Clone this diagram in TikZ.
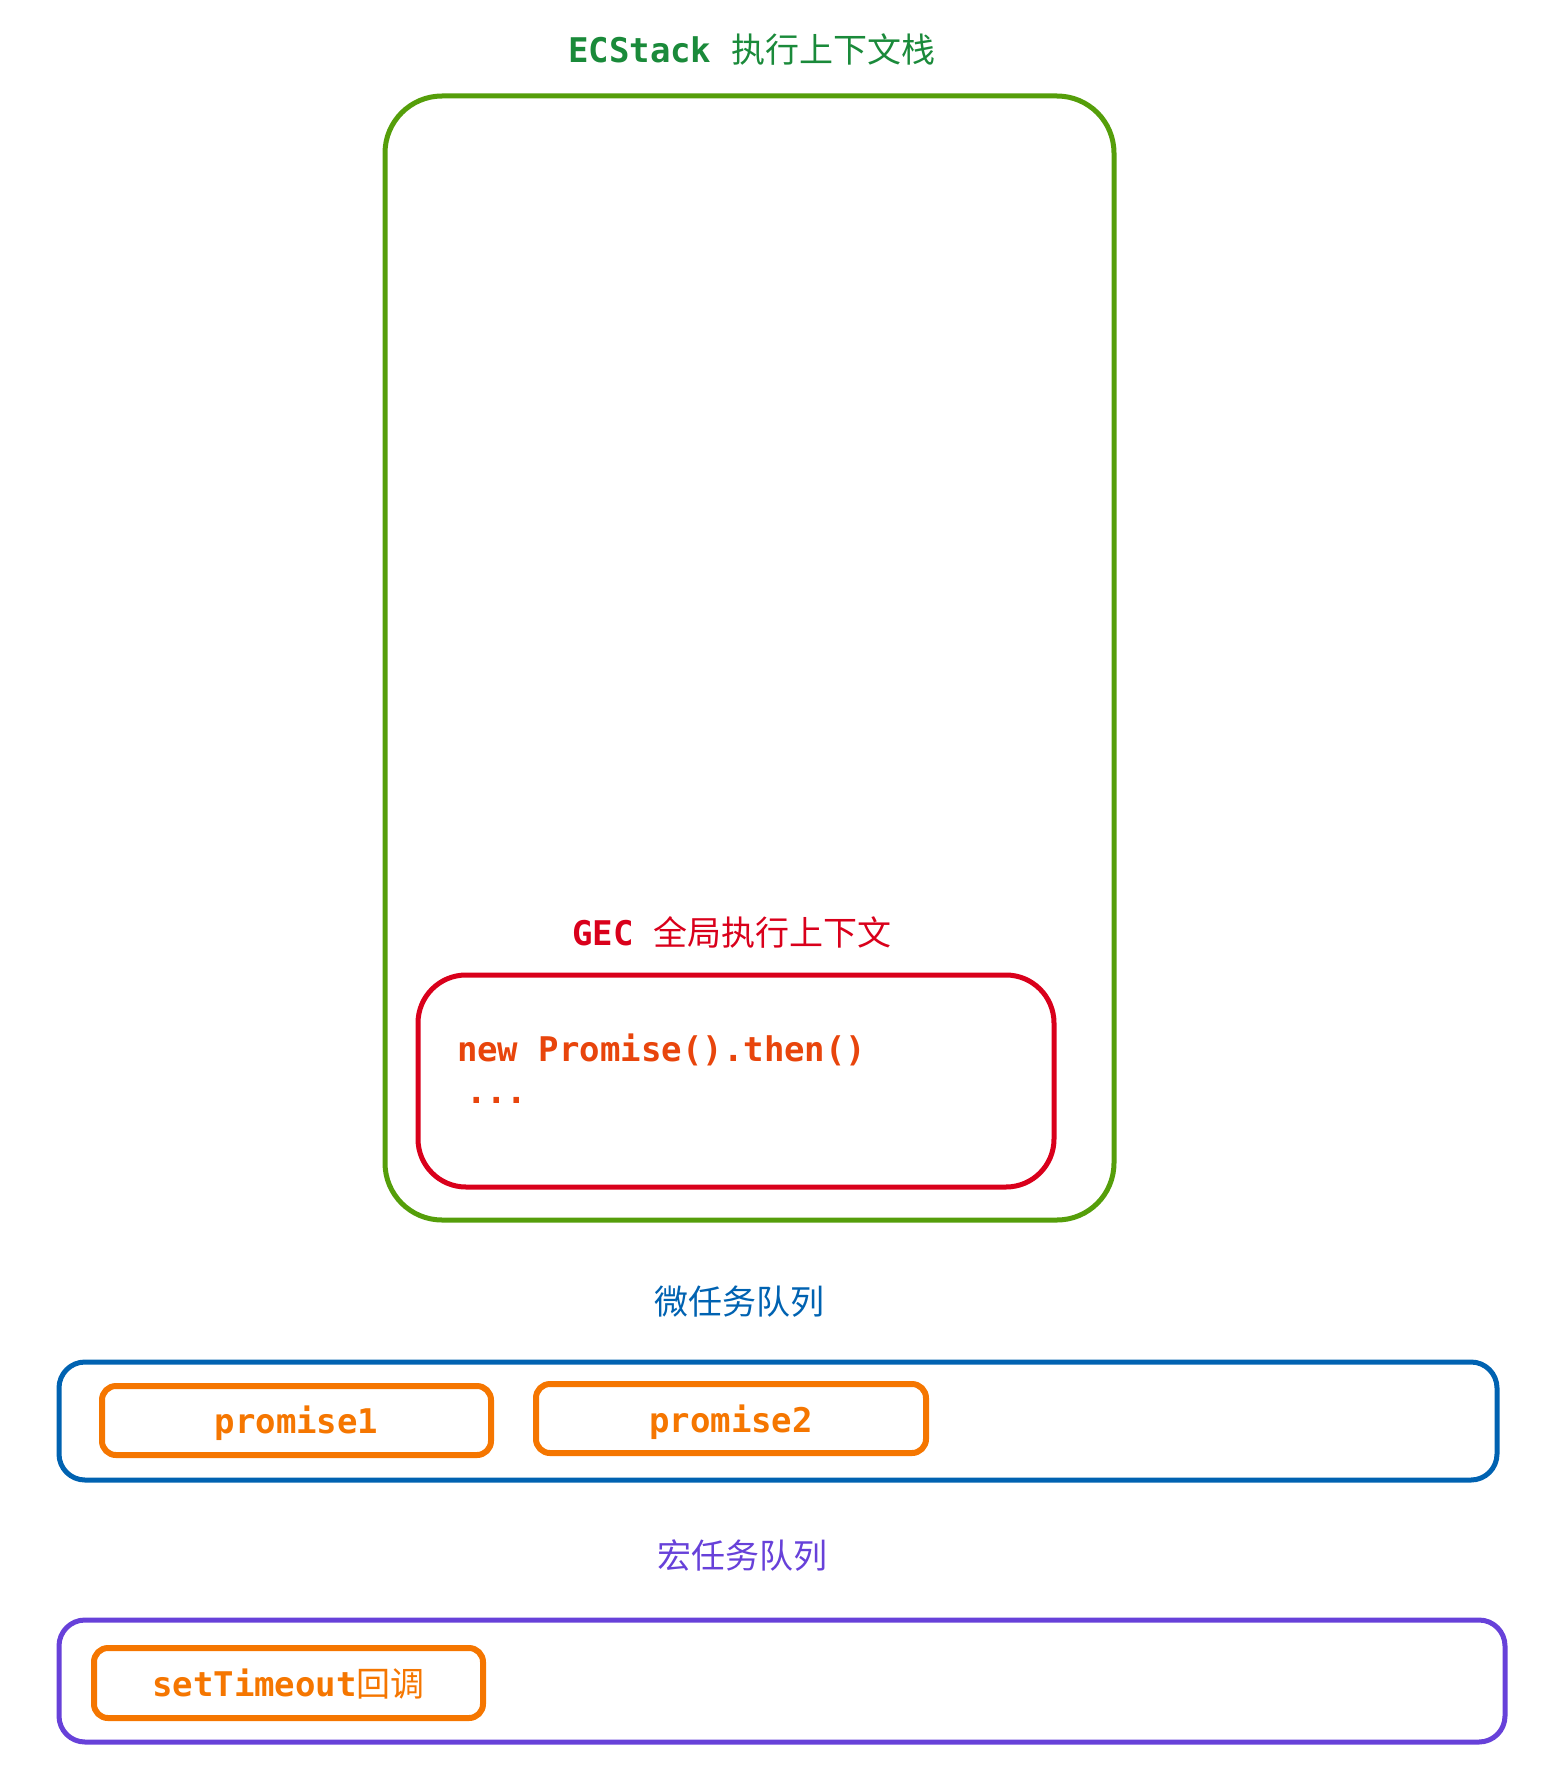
\documentclass[tikz,border=0pt]{standalone}
\usepackage{fontspec}
\newfontfamily\monof{DejaVu Sans Mono}[BoldFont={DejaVu Sans Mono Bold}]
\newfontfamily\cjkf{Noto Sans CJK SC}
\definecolor{stackgreen}{HTML}{559E0A}
\definecolor{titlegreen}{HTML}{1A8A3A}
\definecolor{gecred}{HTML}{D9001B}
\definecolor{codeorange}{HTML}{E8450C}
\definecolor{qblue}{HTML}{0062B1}
\definecolor{qpurple}{HTML}{6741D9}
\definecolor{taskorange}{HTML}{F57600}
\tikzset{
  txt/.style={inner sep=0pt, outer sep=0pt, font=\fontsize{34}{42}\selectfont},
  box/.style={line width=5pt, line join=round},
  taskbox/.style={draw=taskorange, line width=6pt, rounded corners=14pt, line join=round},
}
\begin{document}
\begin{tikzpicture}[x=1pt,y=-1pt]
\useasboundingbox (0,0) rectangle (1564,1790);
% ECStack
\node[txt, text=titlegreen, anchor=base] (stacktitle) at (752,63) {\monof\bfseries ECStack\ \mdseries\cjkf 执行上下文栈};
\draw[box, draw=stackgreen, rounded corners=57pt] (385,96) rectangle (1114,1220);
\node (stackbox) at (749.5,658) {};
% GEC
\node[txt, text=gecred, anchor=base] (gectitle) at (732,945) {\monof\bfseries GEC\ \mdseries\cjkf 全局执行上下文};
\draw[box, draw=gecred, rounded corners=48pt] (418,975) rectangle (1054,1187);
\node[txt, text=codeorange, anchor=base west] (code1) at (457,1061) {\monof\bfseries new Promise().then()};
\node[txt, text=codeorange, anchor=base west] (code2) at (466,1103) {\monof\bfseries ...};
% micro task queue
\node[txt, text=qblue, anchor=base] (microtitle) at (739,1314) {\cjkf 微任务队列};
\draw[box, draw=qblue, rounded corners=26pt] (59,1362) rectangle (1497,1480);
\draw[taskbox] (102,1386) rectangle (491,1455);
\node[txt, text=taskorange, anchor=base] (p1) at (296.5,1433) {\monof\bfseries promise1};
\draw[taskbox] (536,1384) rectangle (926,1453);
\node[txt, text=taskorange, anchor=base] (p2) at (731,1432) {\monof\bfseries promise2};
% macro task queue
\node[txt, text=qpurple, anchor=base] (macrotitle) at (742,1568) {\cjkf 宏任务队列};
\draw[box, draw=qpurple, rounded corners=26pt] (59,1620) rectangle (1505,1742);
\draw[taskbox] (94,1648) rectangle (483,1718);
\node[txt, text=taskorange, anchor=base] (st) at (288.5,1696) {\monof\bfseries setTimeout\mdseries\cjkf 回调};
\end{tikzpicture}
\end{document}
